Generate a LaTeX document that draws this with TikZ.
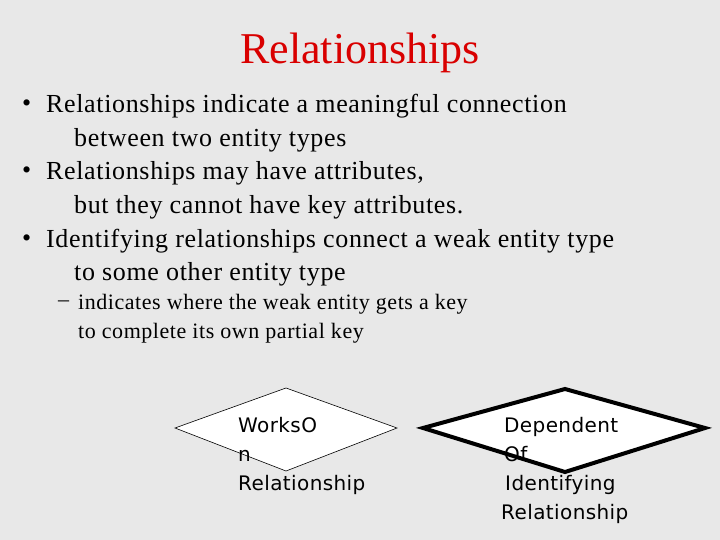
\documentclass[tikz,border=0pt]{standalone}
\usepackage{fontspec}
\setmainfont{Liberation Serif}
\newfontfamily\bfont[LetterSpace=2.5]{Liberation Serif}
\newfontfamily\dfont[LetterSpace=2]{DejaVu Sans}
\begin{document}
\begin{tikzpicture}[x=1pt,y=-1pt,
  txt/.style={anchor=west,inner sep=0pt,font=\bfont\fontsize{26}{28}\selectfont},
  sub/.style={anchor=west,inner sep=0pt,font=\bfont\fontsize{22}{24}\selectfont},
  lab/.style={anchor=west,inner sep=0pt,font=\dfont\fontsize{20}{29}\selectfont,align=left}]
\fill[black!9] (0,0) rectangle (720,540);
\node[inner sep=0pt,text=red!85!black,font=\fontsize{44}{48}\selectfont] (title) at (360,53) {Relationships};
\node[txt] (b1) at (22,106) {•};
\node[txt] (l1) at (46,106) {Relationships indicate a meaningful connection};
\node[txt] (l2) at (74,140) {between two entity types};
\node[txt] (b2) at (22,173) {•};
\node[txt] (l3) at (46,173) {Relationships may have attributes,};
\node[txt] (l4) at (74,207) {but they cannot have key attributes.};
\node[txt] (b3) at (22,241) {•};
\node[txt] (l5) at (46,241) {Identifying relationships connect a weak entity type};
\node[txt] (l6) at (74,274) {to some other entity type};
\node[sub] (d1) at (58,304) {–};
\node[sub] (s1) at (78,304) {indicates where the weak entity gets a key};
\node[sub] (s2) at (78,333) {to complete its own partial key};
\draw[fill=white,line width=0.6pt] (175,428) -- (286,388) -- (397,428) -- (286,471) -- cycle;
\draw[fill=white,line width=4pt,line join=miter] (423,428) -- (565,389) -- (705,428) -- (565,472) -- cycle;
\node[lab] (w) at (238,456) {WorksO\\n\\Relationship};
\node[lab] (dep) at (501,470) {\hspace*{3pt}Dependent\\\hspace*{3pt}Of\\\hspace*{4pt}Identifying\\Relationship};
\end{tikzpicture}
\end{document}
